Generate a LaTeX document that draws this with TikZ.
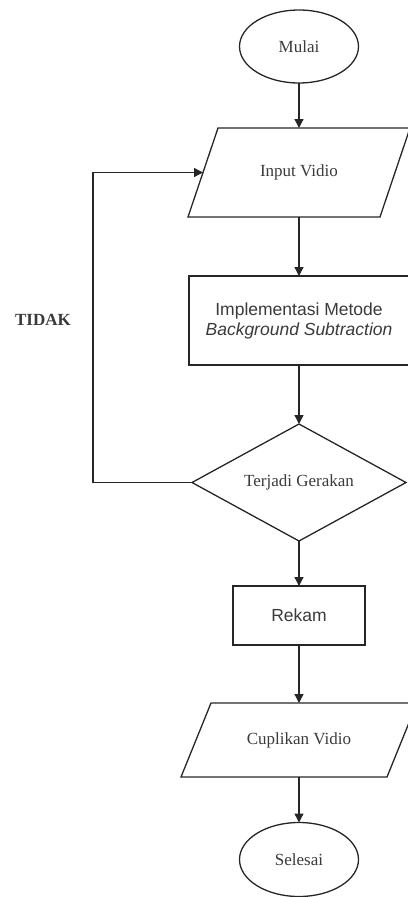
\documentclass[tikz,border=0pt]{standalone}
\usepackage{fontspec}
\setmainfont{Liberation Serif}
\setsansfont{Liberation Sans}
\usetikzlibrary{shapes.geometric,arrows.meta,calc}

\definecolor{inkline}{HTML}{262626}
\definecolor{inktext}{HTML}{3A3A3A}

\begin{document}
\begin{tikzpicture}[x=1pt,y=-1pt,
  every node/.style={inner sep=0pt,outer sep=0pt,text=inktext},
  serifbox/.style={font=\fontsize{17}{20}\selectfont\rmfamily},
  sansbox/.style={font=\fontsize{17.5}{20}\selectfont\sffamily,align=center},
  terminal/.style={ellipse,draw=inkline,line width=1.3pt,serifbox},
  process/.style={rectangle,draw=inkline,line width=1.3pt,sansbox},
  iobox/.style={rectangle,draw=none,serifbox},
  decision/.style={diamond,draw=inkline,line width=1.3pt,serifbox,
    minimum width=214,minimum height=117,aspect=1.83},
  flow/.style={draw=inkline,line width=1.3pt,-{Triangle[length=9pt,width=9pt]}},
  edge/.style={draw=inkline,line width=1.3pt}
]
\useasboundingbox (0,0) rectangle (407,897);

% terminals
\node[terminal,minimum width=119,minimum height=73] (start) at (299,46.5) {Mulai};
\node[terminal,minimum width=119,minimum height=74] (stop) at (299,859.5) {Selesai};

% input / output boxes: rectangle anchors, slanted outline drawn afterwards
\node[iobox,minimum width=192,minimum height=89] (inp) at (299,172.5) {Input Vidio};
\node[iobox,minimum width=206,minimum height=74] (clip) at (299,740) {Cuplikan Vidio};
\foreach \n/\s in {inp/15,clip/15}{
  \draw[edge,line join=miter]
    ($(\n.north west)+(\s,0)$) -- ($(\n.north east)+(\s,0)$)
    -- ($(\n.south east)+(-\s,0)$) -- ($(\n.south west)+(-\s,0)$) -- cycle;
}

% processes
\node[process,minimum width=220,minimum height=89] (bgs) at (299,320.5)
  {Implementasi Metode\\\textit{Background Subtraction}};
\node[process,minimum width=132,minimum height=59] (rec) at (299,615.5) {Rekam};

% decision
\node[decision] (mov) at (299,482.5) {Terjadi Gerakan};

% loop label
\node[font=\fontsize{17}{20}\selectfont\rmfamily\bfseries] (tidak) at (43,320) {TIDAK};

% connectors
\draw[flow] (start) -- (inp);
\draw[flow] (inp) -- (bgs);
\draw[flow] (bgs) -- (mov);
\draw[flow] (mov) -- (rec);
\draw[flow] (rec) -- (clip);
\draw[flow] (clip) -- (stop);
\coordinate (loopL) at (93,482.5);
\draw[flow] (mov.west) -- (loopL) |- (inp.west);
\end{tikzpicture}
\end{document}
